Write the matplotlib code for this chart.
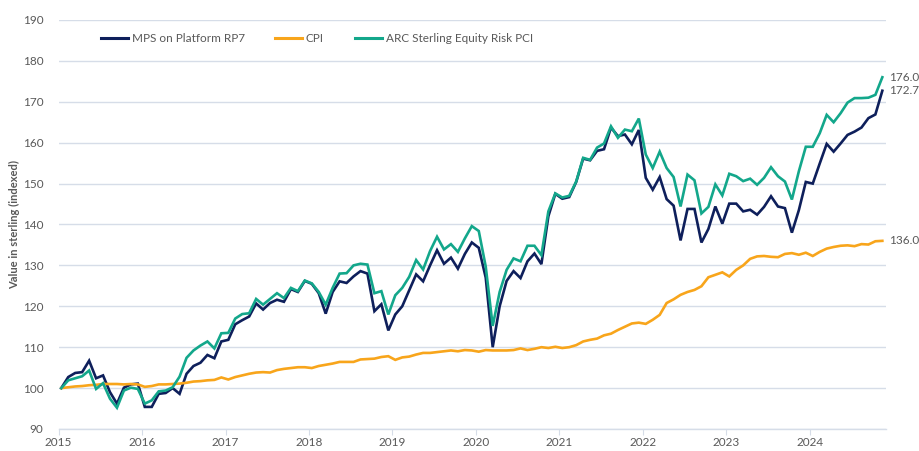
import matplotlib.pyplot as plt
from matplotlib.lines import Line2D
import numpy as np

plt.rcParams['font.family'] = ['Lato', 'DejaVu Sans']

# monthly values, Jan 2015 .. Nov 2024 (index = 100 at start)
mps = [100.0, 102.7, 103.7, 103.9, 106.7, 102.4, 103.1, 99.0, 96.2, 100.1,
       100.9, 101.1, 95.4, 95.4, 98.6, 98.8, 100.0, 98.6, 103.5, 105.4,
       106.2, 108.1, 107.3, 111.4, 111.8, 115.6, 116.6, 117.5, 120.7, 119.2,
       120.8, 121.6, 121.1, 124.2, 123.5, 126.2, 125.5, 123.2, 118.2, 123.5,
       126.1, 125.7, 127.3, 128.6, 128.0, 118.8, 120.5, 114.1, 118.0, 120.0,
       123.9, 127.8, 126.1, 130.0, 133.7, 130.4, 131.9, 129.2, 132.8, 135.6,
       134.3, 127.0, 110.0, 120.0, 126.2, 128.6, 126.9, 131.0, 132.9, 130.3,
       142.0, 147.5, 146.3, 146.7, 150.4, 156.1, 155.7, 158.0, 158.4, 163.7,
       161.6, 162.0, 159.6, 163.1, 151.4, 148.5, 151.6, 146.2, 144.6, 136.1,
       143.8, 143.8, 135.6, 138.9, 144.4, 140.2, 145.1, 145.1, 143.2, 143.6,
       142.4, 144.3, 146.9, 144.4, 144.0, 138.0, 143.5, 150.4, 150.0, 154.9,
       159.7, 157.8, 159.8, 161.9, 162.7, 163.7, 166.0, 166.9, 172.7]

cpi = [100.0, 100.2, 100.4, 100.5, 100.7, 100.8, 101.0, 101.0, 101.0, 100.9,
       101.0, 100.9, 100.3, 100.5, 100.9, 100.9, 101.0, 101.1, 101.3, 101.6,
       101.7, 101.9, 102.0, 102.6, 102.1, 102.7, 103.1, 103.5, 103.8, 103.9,
       103.8, 104.4, 104.7, 104.9, 105.1, 105.1, 104.9, 105.4, 105.7, 106.0,
       106.4, 106.4, 106.4, 107.0, 107.1, 107.2, 107.6, 107.8, 106.9, 107.5,
       107.7, 108.2, 108.6, 108.6, 108.8, 109.0, 109.2, 109.0, 109.3, 109.2,
       108.9, 109.3, 109.2, 109.2, 109.2, 109.3, 109.7, 109.3, 109.6, 110.0,
       109.8, 110.1, 109.8, 110.0, 110.5, 111.4, 111.8, 112.1, 112.9, 113.3,
       114.2, 115.0, 115.8, 116.0, 115.7, 116.7, 117.9, 120.8, 121.7, 122.8,
       123.5, 124.0, 124.9, 127.1, 127.7, 128.3, 127.3, 128.9, 130.0, 131.6,
       132.2, 132.3, 132.1, 132.0, 132.8, 133.0, 132.6, 133.1, 132.3, 133.3,
       134.1, 134.5, 134.8, 134.9, 134.7, 135.2, 135.1, 135.9, 136.0]

arc = [100.0, 101.9, 102.4, 102.9, 104.3, 99.8, 101.2, 97.4, 95.2, 99.4,
       100.1, 99.8, 96.2, 97.0, 99.2, 99.4, 100.2, 102.8, 107.4, 109.2,
       110.4, 111.4, 109.7, 113.4, 113.5, 117.0, 118.1, 118.3, 121.8, 120.4,
       121.8, 123.2, 122.0, 124.5, 123.7, 126.3, 125.6, 123.5, 120.4, 124.5,
       128.0, 128.1, 130.0, 130.4, 130.2, 123.2, 123.7, 118.0, 122.7, 124.5,
       127.2, 131.3, 129.0, 133.5, 137.0, 133.9, 135.2, 133.3, 136.6, 139.6,
       138.4, 129.7, 115.2, 123.5, 128.9, 131.7, 131.0, 134.8, 134.8, 132.5,
       143.2, 147.6, 146.6, 147.0, 150.5, 156.3, 155.8, 158.8, 159.8, 164.0,
       161.2, 163.2, 162.8, 165.9, 157.1, 153.8, 157.8, 153.8, 151.6, 144.4,
       152.2, 150.8, 142.7, 144.3, 149.8, 147.1, 152.4, 151.8, 150.6, 151.2,
       149.7, 151.4, 154.0, 151.8, 150.5, 146.1, 153.0, 159.0, 159.0, 162.3,
       166.8, 165.0, 167.2, 169.8, 170.9, 170.9, 171.0, 171.7, 176.0]

years = list(range(2015, 2025))
labels = ['MPS on Platform RP7', 'CPI', 'ARC Sterling Equity Risk PCI']
colors = ['#0e1f5b', '#f8a51b', '#13a78b']

# x as fractional year, points sit a little after each month start
x = 2015 + (np.arange(len(mps)) + 0.4) / 12

W, H = 920, 451
fig = plt.figure(figsize=(W / 100, H / 100), dpi=100)
ax = fig.add_axes([0.0636, 0.0488, 0.8994, 0.9069])

grid_c = '#d6dde8'
txt_c = '#595959'

for v, lab, c in zip([mps, cpi, arc], labels, colors):
    ax.plot(x, v, color=c, lw=1.9, label=lab, solid_joinstyle='miter')

ax.set_ylim(90, 190)
ax.set_xlim(2015, 2024.91)
ax.set_yticks(range(90, 191, 10))
ax.set_xticks(years)
ax.grid(axis='y', color=grid_c, lw=1.0)
ax.set_axisbelow(True)
for s in ['top', 'right', 'left']:
    ax.spines[s].set_visible(False)
ax.spines['bottom'].set_color(grid_c)
ax.spines['bottom'].set_linewidth(1.0)
ax.tick_params(axis='y', length=0, labelsize=8.5, labelcolor=txt_c, pad=11)
ax.tick_params(axis='x', length=4, color=grid_c, labelsize=8.5, labelcolor=txt_c, pad=2)

ax.set_ylabel('Value in sterling (indexed)', fontsize=8, fontweight='bold', color=txt_c, labelpad=2)

# end-of-line values
for v in [arc, mps, cpi]:
    ax.annotate(f'{v[-1]:.1f}', (x[-1], v[-1]), xytext=(5, 0), textcoords='offset points',
                va='center', ha='left', fontsize=8.5, color=txt_c, annotation_clip=False)

# legend row drawn by hand so the spacing matches
leg_y = 1 - 38.3 / H
for x0, lab, c in zip([101, 275, 355], labels, colors):
    fig.add_artist(Line2D([x0 / W, (x0 + 27) / W], [leg_y, leg_y], color=c, lw=2.2,
                          transform=fig.transFigure))
    fig.text((x0 + 31) / W, leg_y, lab, fontsize=8.5, color=txt_c, va='center', ha='left')

fig.savefig('out.png', dpi=100)
